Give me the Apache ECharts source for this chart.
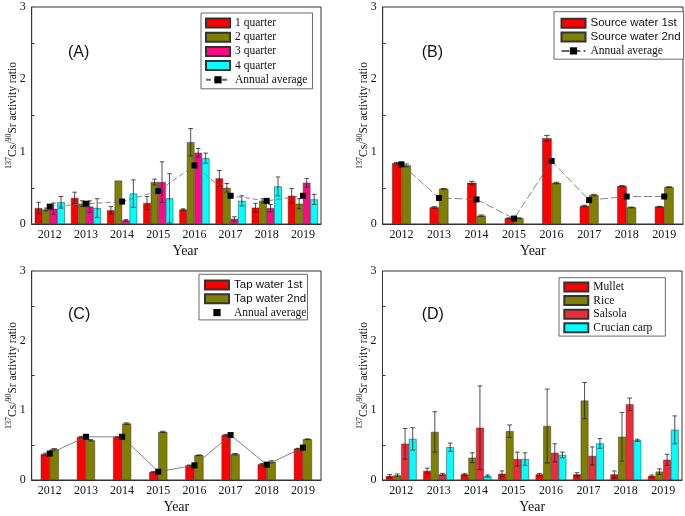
<!DOCTYPE html>
<html>
<head>
<meta charset="utf-8">
<script src="https://cdn.jsdelivr.net/npm/echarts@6/dist/echarts.min.js"></script>
<style>
  html, body { margin: 0; padding: 0; background: #fff; }
  #chart { width: 685px; height: 516px; }
</style>
</head>
<body>
<div id="chart"></div>
<script>
const years = ['2012', '2013', '2014', '2015', '2016', '2017', '2018', '2019'];

// (A) quarters
const aQ1 = [0.22, 0.36, 0.19, 0.29, 0.20, 0.63, 0.225, 0.39];
const aQ1Err = [0.08, 0.08, 0.05, 0.09, 0.01, 0.11, 0.06, 0.10];
const aQ2 = [0.20, 0.28, 0.60, 0.58, 1.13, 0.50, 0.32, 0.28];
const aQ2Err = [0.02, 0.04, 0, 0.04, 0.19, 0.06, 0.03, 0.07];
const aQ3 = [0.21, 0.24, 0.05, 0.58, 0.985, 0.07, 0.22, 0.57];
const aQ3Err = [0.08, 0.08, 0.01, 0.28, 0.06, 0.03, 0.05, 0.06];
const aQ4 = [0.30, 0.22, 0.42, 0.355, 0.91, 0.32, 0.52, 0.34];
const aQ4Err = [0.08, 0.13, 0.19, 0.34, 0.07, 0.07, 0.13, 0.07];
const aAvg = [0.24, 0.28, 0.31, 0.456, 0.81, 0.39, 0.32, 0.39];

// (B) source water
const bS1 = [0.84, 0.23, 0.57, 0.08, 1.185, 0.25, 0.525, 0.24];
const bS1Err = [0.01, 0.01, 0.02, 0.005, 0.04, 0.01, 0.005, 0.005];
const bS2 = [0.81, 0.485, 0.115, 0.08, 0.567, 0.40, 0.23, 0.51];
const bS2Err = [0.02, 0.005, 0.01, 0.005, 0.01, 0.01, 0.005, 0.005];
const bAvg = [0.825, 0.36, 0.34, 0.075, 0.87, 0.33, 0.38, 0.38];

// (C) tap water
const cT1 = [0.37, 0.617, 0.617, 0.115, 0.21, 0.646, 0.225, 0.45];
const cT1Err = [0.015, 0.01, 0.005, 0.005, 0.005, 0.01, 0.01, 0.005];
const cT2 = [0.44, 0.57, 0.81, 0.69, 0.355, 0.37, 0.26, 0.585];
const cT2Err = [0.01, 0.01, 0.01, 0.01, 0.005, 0.01, 0.015, 0.005];
const cAvg = [0.38, 0.62, 0.62, 0.12, 0.21, 0.645, 0.22, 0.465];

// (D) food
const dMullet = [0.057, 0.13, 0.08, 0.09, 0.08, 0.08, 0.08, 0.057];
const dMulletErr = [0.02, 0.04, 0.01, 0.04, 0.015, 0.025, 0.05, 0.015];
const dRice = [0.067, 0.69, 0.32, 0.70, 0.775, 1.14, 0.62, 0.12];
const dRiceErr = [0.02, 0.29, 0.07, 0.09, 0.53, 0.26, 0.35, 0.04];
const dSalsola = [0.52, 0.08, 0.75, 0.30, 0.39, 0.345, 1.086, 0.29];
const dSalsolaErr = [0.22, 0.015, 0.6, 0.1, 0.13, 0.13, 0.09, 0.08];
const dCrucian = [0.59, 0.47, 0.057, 0.30, 0.36, 0.525, 0.57, 0.72];
const dCrucianErr = [0.16, 0.06, 0.015, 0.09, 0.04, 0.07, 0.015, 0.2];

const serif = 'Liberation Serif';
const sans = 'Liberation Sans';
const RED = '#ff0000', OLIVE = '#808000', PINK = '#ff0a84', CYAN = '#00ffff', SALSOLA = '#ee2b3b';

let chart = echarts.init(document.getElementById('chart'), null, {renderer: 'canvas'});

const grids = [
    {left: 31.7, right: 364, top: 7, bottom: 292},
    {left: 382.7, right: 2, top: 7, bottom: 292},
    {left: 31.7, right: 364, top: 271, bottom: 36},
    {left: 382.5, right: 3, top: 271, bottom: 36}
].map(g => Object.assign({show: true, borderColor: '#333', borderWidth: 1, backgroundColor: 'transparent'}, g));

function makeXAxis(i, yearPad) {
    return {
        type: 'category', gridIndex: i, data: years,
        name: 'Year', nameLocation: 'middle', nameGap: 20,
        nameTextStyle: {fontFamily: serif, fontSize: 14, color: '#111', padding: [0, 0, 0, yearPad]},
        axisLine: {lineStyle: {color: '#333', width: 1}},
        axisTick: {inside: true, length: 4, lineStyle: {color: '#333'}},
        axisLabel: {fontFamily: serif, fontSize: 12, color: '#111', margin: 5},
        splitLine: {show: false}
    };
}

function makeYAxis(i) {
    return {
        type: 'value', gridIndex: i, min: 0, max: 3, interval: 1,
        name: '{sup|137}{m|Cs/}{sup|90}{m|Sr activity ratio}',
        nameLocation: 'middle', nameGap: 11, nameRotate: 90, nameMoveOverlap: false,
        nameTextStyle: {
            rich: {
                sup: {fontFamily: serif, fontSize: 8, color: '#111', verticalAlign: 'top'},
                m: {fontFamily: serif, fontSize: 11.5, color: '#111', lineHeight: 16}
            }
        },
        axisLine: {show: true, lineStyle: {color: '#333', width: 1}},
        axisTick: {inside: true, length: 5, lineStyle: {color: '#333'}},
        minorTick: {show: true, splitNumber: 2, length: 3, lineStyle: {color: '#333'}},
        axisLabel: {fontFamily: serif, fontSize: 12, color: '#111', margin: 6},
        splitLine: {show: false}
    };
}

function barSeries(name, grid, vals, color, gap) {
    return {
        name: name, type: 'bar', xAxisIndex: grid, yAxisIndex: grid, data: vals,
        barGap: '0%', barCategoryGap: gap,
        itemStyle: {color: color, borderColor: '#333', borderWidth: 0.5}
    };
}

// error bars placed on the bar k of n inside each category band
function errSeries(grid, vals, errs, k, n, gap) {
    return {
        type: 'custom', xAxisIndex: grid, yAxisIndex: grid, z: 5,
        data: years.map((y, i) => [i, vals[i], errs[i]]),
        encode: {x: 0, y: 1},
        renderItem: function (params, api) {
            const idx = api.value(0), v = api.value(1), e = api.value(2);
            if (!e) return null;
            const band = api.size([1, 0])[0];
            const group = band * (1 - gap);
            const w = group / n;
            const off = -group / 2 + w * (k + 0.5);
            const top = api.coord([idx, v + e]);
            const bot = api.coord([idx, Math.max(v - e, 0)]);
            const x = top[0] + off;
            const cap = w * 0.3;
            const st = {stroke: '#222', lineWidth: 0.8};
            return {
                type: 'group',
                children: [
                    {type: 'line', shape: {x1: x, y1: top[1], x2: x, y2: bot[1]}, style: st},
                    {type: 'line', shape: {x1: x - cap, y1: top[1], x2: x + cap, y2: top[1]}, style: st},
                    {type: 'line', shape: {x1: x - cap, y1: bot[1], x2: x + cap, y2: bot[1]}, style: st}
                ]
            };
        }
    };
}

function avgSeries(name, grid, vals, dash) {
    return {
        name: name, type: 'line', xAxisIndex: grid, yAxisIndex: grid, data: vals, z: 6,
        symbol: 'rect', symbolSize: 6,
        itemStyle: {color: '#000'},
        lineStyle: {color: '#666', width: 0.8, type: dash}
    };
}

const avgName = name => name.indexOf('avg') === 0 ? 'Annual average' : name;

const legendBase = {
    orient: 'vertical', itemWidth: 24, itemHeight: 9,
    borderColor: '#444', borderWidth: 0.8, backgroundColor: '#fff',
    textStyle: {fontFamily: serif, fontSize: 11.5, color: '#111', lineHeight: 12},
    formatter: avgName, selectedMode: false
};

const option = {
    animation: false,
    backgroundColor: '#fff',
    grid: grids,
    xAxis: [makeXAxis(0, 18), makeXAxis(1, 0), makeXAxis(2, 0), makeXAxis(3, 0)],
    yAxis: [makeYAxis(0), makeYAxis(1), makeYAxis(2), makeYAxis(3)],
    legend: [
        Object.assign({}, legendBase, {
            left: 201, top: 13, itemGap: 2.2, padding: [4, 5, 3, 4],
            data: [
                {name: '1 quarter', icon: 'rect'}, {name: '2 quarter', icon: 'rect'},
                {name: '3 quarter', icon: 'rect'}, {name: '4 quarter', icon: 'rect'},
                {name: 'avgA'}
            ]
        }),
        Object.assign({}, legendBase, {
            left: 554, top: 11.7, itemGap: 1.8, padding: [5.6, 3, 2.3, 6.5],
            data: [
                {name: 'Source water 1st', icon: 'rect', textStyle: {fontFamily: sans}},
                {name: 'Source water 2nd', icon: 'rect', textStyle: {fontFamily: sans}},
                {name: 'avgB'}
            ]
        }),
        Object.assign({}, legendBase, {
            left: 199, top: 274.3, itemGap: 1.8, padding: [4.7, 1, 1.3, 5],
            lineStyle: {opacity: 0},
            data: [
                {name: 'Tap water 1st', icon: 'rect', textStyle: {fontFamily: sans}},
                {name: 'Tap water 2nd', icon: 'rect', textStyle: {fontFamily: sans}},
                {name: 'avgC'}
            ]
        }),
        Object.assign({}, legendBase, {
            left: 559, top: 277.7, itemGap: 1.6, padding: [3.3, 13, 2.3, 4.3],
            data: [
                {name: 'Mullet', icon: 'rect'}, {name: 'Rice', icon: 'rect'},
                {name: 'Salsola', icon: 'rect'}, {name: 'Crucian carp', icon: 'rect'}
            ]
        })
    ],
    graphic: [
        {type: 'text', left: 68, top: 45, style: {text: '(A)', font: '16px "Liberation Sans"', fill: '#111'}},
        {type: 'text', left: 421.7, top: 45, style: {text: '(B)', font: '16px "Liberation Sans"', fill: '#111'}},
        {type: 'text', left: 68, top: 306.5, style: {text: '(C)', font: '16px "Liberation Sans"', fill: '#111'}},
        {type: 'text', left: 421.7, top: 307, style: {text: '(D)', font: '16px "Liberation Sans"', fill: '#111'}}
    ],
    series: [
        barSeries('1 quarter', 0, aQ1, RED, '17%'),
        barSeries('2 quarter', 0, aQ2, OLIVE, '17%'),
        barSeries('3 quarter', 0, aQ3, PINK, '17%'),
        barSeries('4 quarter', 0, aQ4, CYAN, '17%'),
        errSeries(0, aQ1, aQ1Err, 0, 4, 0.17),
        errSeries(0, aQ2, aQ2Err, 1, 4, 0.17),
        errSeries(0, aQ3, aQ3Err, 2, 4, 0.17),
        errSeries(0, aQ4, aQ4Err, 3, 4, 0.17),
        avgSeries('avgA', 0, aAvg, [5, 3]),

        barSeries('Source water 1st', 1, bS1, RED, '50%'),
        barSeries('Source water 2nd', 1, bS2, OLIVE, '50%'),
        errSeries(1, bS1, bS1Err, 0, 2, 0.5),
        errSeries(1, bS2, bS2Err, 1, 2, 0.5),
        avgSeries('avgB', 1, bAvg, [8, 3]),

        barSeries('Tap water 1st', 2, cT1, RED, '50%'),
        barSeries('Tap water 2nd', 2, cT2, OLIVE, '50%'),
        errSeries(2, cT1, cT1Err, 0, 2, 0.5),
        errSeries(2, cT2, cT2Err, 1, 2, 0.5),
        avgSeries('avgC', 2, cAvg, 'solid'),

        barSeries('Mullet', 3, dMullet, RED, '18%'),
        barSeries('Rice', 3, dRice, OLIVE, '18%'),
        barSeries('Salsola', 3, dSalsola, SALSOLA, '18%'),
        barSeries('Crucian carp', 3, dCrucian, CYAN, '18%'),
        errSeries(3, dMullet, dMulletErr, 0, 4, 0.18),
        errSeries(3, dRice, dRiceErr, 1, 4, 0.18),
        errSeries(3, dSalsola, dSalsolaErr, 2, 4, 0.18),
        errSeries(3, dCrucian, dCrucianErr, 3, 4, 0.18)
    ]
};

chart.setOption(option);
</script>
</body>
</html>
